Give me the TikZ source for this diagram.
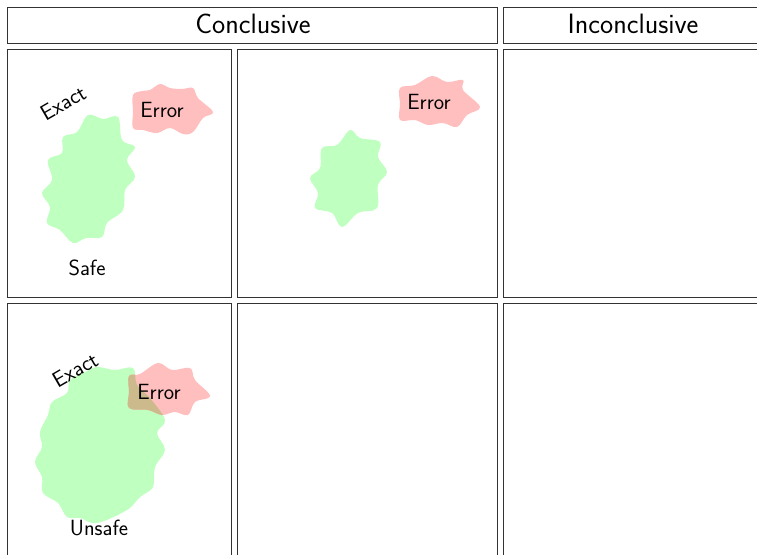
\documentclass[tikz,border=0pt]{standalone}
\definecolor{ovl}{RGB}{204,186,140}
\begin{document}
\begin{tikzpicture}[x=1pt,y=-1pt,
  box/.style={draw=black!80,line width=0.9pt},
  blob/.style={smooth cycle,tension=0.6},
  lbl/.style={font=\fontsize{22}{26}\sffamily,inner sep=0pt,anchor=base},
  hdr/.style={font=\fontsize{28}{34}\sffamily,inner sep=0pt,anchor=base}]
\useasboundingbox (0,0) rectangle (757,554);
\clip (0,0) rectangle (757,554);
% boxes
\draw[box] (7,7) rectangle (497,43);
\draw[box] (503,7) rectangle (800,43);
\draw[box] (7,49) rectangle (231,297);
\draw[box] (237,49) rectangle (497,297);
\draw[box] (503,49) rectangle (800,297);
\draw[box] (7,303) rectangle (231,600);
\draw[box] (237,303) rectangle (497,600);
\draw[box] (503,303) rectangle (800,600);
% headers
\node[hdr] (conc) at (253,33) {Conclusive};
\node[hdr] (inconc) at (633,33) {Inconclusive};
% row 1, col 1
\fill[green!25] plot[blob] coordinates {(88,115) (103,119) (118,117) (122,140) (135,147) (127,160) (135,177) (125,190) (123,210) (107,223) (102,237) (86,238) (73,243) (60,230) (47,223) (50,207) (42,193) (52,180) (48,160) (62,153) (63,137) (77,132)};
\fill[red!25] plot[blob] coordinates {(133,95) (142,91) (150,90) (160,84) (170,88) (182,89) (193,88) (198,98) (213,112) (203,118) (193,132) (183,134) (170,128) (157,133) (143,130) (133,128) (133,112)};
\node[lbl] (err1) at (162,117) {Error};
\node[lbl,rotate=30,anchor=center] (ex1) at (63,103) {Exact};
\node[lbl] (safe) at (87,275) {Safe};
% row 1, col 2
\fill[green!25] plot[blob] coordinates {(350,130) (360,138) (380,142) (378,157) (387,172) (378,185) (377,208) (358,213) (342,227) (332,213) (315,208) (318,193) (310,178) (320,168) (322,148) (337,145)};
\fill[red!25] plot[blob] coordinates {(400,88) (415,85) (432,76) (447,82) (463,80) (463,90) (480,107) (467,115) (457,127) (443,123) (428,125) (415,120) (400,120) (400,104)};
\node[lbl] (err2) at (429,109) {Error};
% row 2, col 1
\fill[green!25] plot[blob] coordinates {(97,367) (115,370) (133,368) (137,385) (150,398) (165,420) (157,433) (165,450) (155,467) (153,487) (140,497) (127,510) (97,523) (80,518) (67,517) (58,503) (43,493) (42,477) (35,462) (42,447) (40,432) (48,415) (52,402) (67,393) (70,380) (85,372)};
\fill[red!25] plot[blob] coordinates {(129,376) (140,374) (158,363) (172,370) (190,368) (195,380) (210,396) (195,402) (188,415) (175,412) (162,415) (148,410) (129,408) (129,392)};
\begin{scope}
\clip plot[blob] coordinates {(129,376) (140,374) (158,363) (172,370) (190,368) (195,380) (210,396) (195,402) (188,415) (175,412) (162,415) (148,410) (129,408) (129,392)};
\fill[ovl] plot[blob] coordinates {(97,367) (115,370) (133,368) (137,385) (150,398) (165,420) (157,433) (165,450) (155,467) (153,487) (140,497) (127,510) (97,523) (80,518) (67,517) (58,503) (43,493) (42,477) (35,462) (42,447) (40,432) (48,415) (52,402) (67,393) (70,380) (85,372)};
\end{scope}
\node[lbl] (err3) at (159,399) {Error};
\node[lbl,rotate=30,anchor=center] (ex2) at (75,370) {Exact};
\node[lbl] (unsafe) at (99,535) {Unsafe};
\end{tikzpicture}
\end{document}
